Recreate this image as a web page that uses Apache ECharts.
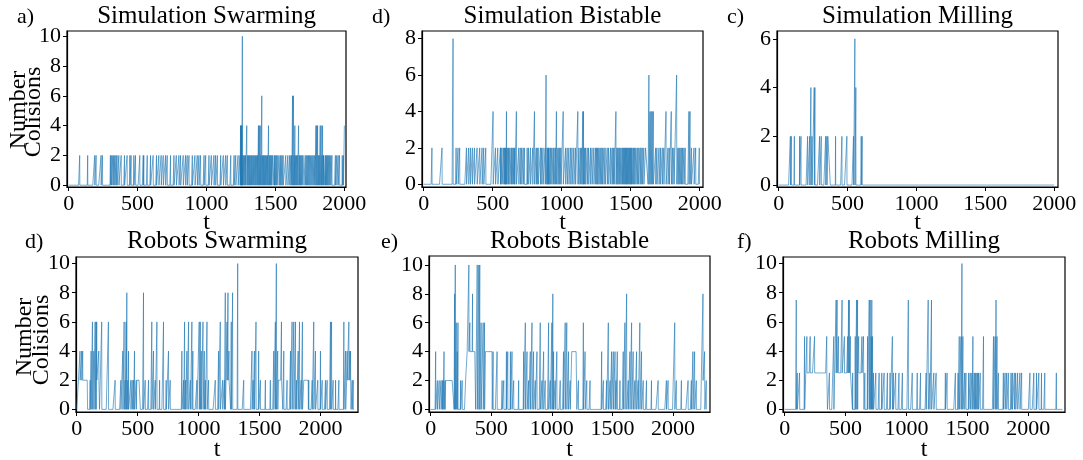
<!DOCTYPE html>
<html>
<head>
<meta charset="utf-8">
<script src="https://cdn.jsdelivr.net/npm/echarts@6/dist/echarts.min.js"></script>
<style>
html,body{margin:0;padding:0;background:#fff;}
#chart{width:1083px;height:460px;}
</style>
</head>
<body>
<div id="chart"></div>
<script>
// ---------------- DATA ----------------
const titles = ['Simulation Swarming','Simulation Bistable','Simulation Milling','Robots Swarming','Robots Bistable','Robots Milling'];
const panelTags = ['a)','d)','c)','d)','e)','f)'];
const simLength = 2001;
const robotLength = 2280;
const xTicksSim = [0,500,1000,1500,2000];
const xTicksRobot = [0,500,1000,1500,2000];
const yTicksA = [0,2,4,6,8,10];
const yTicksB = [0,2,4,6,8];
const yTicksC = [0,2,4,6];
const yTicksRobot = [0,2,4,6,8,10];

// spikes: [t, value]; runs: [tStart, tEnd, value]
const simSwarmRuns = [[1480,1488,2],[1700,1706,2],[1850,1857,2],[1520,1526,2]];
const simSwarmSpikes = [[80,2],[138,2],[189,2],[199,2],[235,2],[245,2],[303,2],[310,2],[320,2],[327,2],[335,2],[344,2],[351,2],[364,2],[381,2],[405,2],[424,2],[444,2],[453,2],[473,2],[485,2],[516,2],[541,2],[545,2],[570,2],[594,2],[613,2],[637,2],[654,2],[671,2],[686,2],[703,2],[715,2],[739,2],[764,2],[781,2],[800,2],[812,2],[831,2],[848,2],[860,2],[873,2],[897,2],[916,2],[933,2],[945,2],[957,2],[982,2],[994,2],[1018,2],[1035,2],[1054,2],[1066,2],[1079,2],[1103,2],[1122,2],[1139,2],[1151,2],[1176,2],[1200,2],[1212,2],[1229,2],[1243,2],
[1247,4],[1250,4],[1253,4],[1256,4],[1260,10],[1264,2],[1270,2],[1277,2],[1283,2],[1292,4],[1298,2],[1305,2],[1311,2],[1318,2],[1325,2],[1331,2],[1338,2],[1344,2],[1351,2],[1357,2],[1364,2],[1370,2],[1377,4],[1383,4],[1390,4],[1395,2],[1401,6],[1407,2],[1413,2],[1419,2],[1425,2],[1431,2],[1437,2],[1443,2],[1450,4],[1456,2],[1462,2],[1468,2],[1474,2],[1492,2],[1498,2],[1505,2],[1512,2],[1533,2],[1540,2],[1548,2],[1556,2],[1575,2],[1590,2],[1603,2],[1612,2],[1618,2],[1624,6],[1631,6],[1636,2],[1641,4],[1647,2],[1653,2],[1660,2],[1668,4],[1674,2],[1680,2],[1687,2],[1694,2],[1716,2],[1724,2],[1732,2],[1740,2],[1748,2],[1756,2],[1764,2],[1772,2],[1780,2],[1787,2],[1794,4],[1800,4],[1806,4],[1812,2],[1818,2],[1825,4],[1832,4],[1837,2],[1842,4],[1848,2],[1862,2],[1868,2],[1874,2],[1880,2],[1887,2],[1894,2],[1902,2],[1910,2],[1935,2],[1945,2],[1955,2],[1965,2],[1985,2],[1993,2],[2000,4]];

const simBistRuns = [[1608,1625,2]];
const simBistSpikes = [[60,2],[133,2],[213,8],[235,2],[249,2],[261,2],[310,2],[326,2],[339,2],[353,2],[368,2],[387,2],[406,2],[423,2],[435,2],[450,2],[503,4],[520,2],[537,2],[556,2],[560,2],[568,2],[580,2],[585,2],[592,2],[596,2],[600,4],[609,2],[615,2],[624,2],[634,2],[640,2],[648,2],[655,2],[660,2],[672,4],[689,2],[700,2],[710,2],[721,2],[730,2],[750,2],[760,2],[774,2],[790,2],[803,4],[815,2],[822,2],[830,2],[846,2],[855,2],[865,2],[880,2],[887,6],[895,2],[900,2],[905,2],[909,2],[919,2],[928,2],[938,2],[945,2],[955,2],[962,4],[972,2],[980,2],[987,2],[995,2],[1011,4],[1028,2],[1040,2],[1052,2],[1065,2],[1075,2],[1088,2],[1100,2],[1117,4],[1125,2],[1136,2],[1145,2],[1153,4],[1158,4],[1165,2],[1173,2],[1185,2],[1195,2],[1209,2],[1220,2],[1233,2],[1245,2],[1253,2],[1260,2],[1269,2],[1278,2],[1286,2],[1295,2],[1306,2],[1315,2],[1330,2],[1340,2],[1354,2],[1365,2],[1373,2],[1380,2],[1393,4],[1400,2],[1407,2],[1415,2],[1422,2],[1430,2],[1439,2],[1445,2],[1451,2],[1457,2],[1463,2],[1469,2],[1475,2],[1481,2],[1487,2],[1493,2],[1499,2],[1505,2],[1511,2],[1520,2],[1528,2],[1537,2],[1547,2],[1555,2],[1567,2],[1575,2],[1584,2],[1595,2],[1632,6],[1640,4],[1648,4],[1656,4],[1664,4],[1681,2],[1690,2],[1705,2],[1716,2],[1729,2],[1740,2],[1756,4],[1770,2],[1780,2],[1794,4],[1804,2],[1814,2],[1833,6],[1842,2],[1850,2],[1858,2],[1867,2],[1876,2],[1886,2],[1895,2],[1922,4],[1930,4],[1940,2],[1959,2],[1971,2],[1997,2]];

const simMillRuns = [[357,374,2]];
const simMillSpikes = [[85,2],[92,2],[114,2],[152,2],[162,2],[210,2],[225,2],[234,4],[242,2],[258,4],[263,4],[297,2],[309,2],[341,2],[350,2],[413,2],[459,2],[495,2],[543,2],[553,6],[560,4],[599,2],[606,2]];

const robSwarmRuns = [[14,88,2],[164,186,2],[493,521,2],[1225,1262,2],[1655,1690,2],[1863,1900,2],[2215,2250,2]];
const robSwarmSpikes = [[27,4],[41,4],[49,4],[110,2],[118,4],[129,6],[140,4],[151,6],[159,6],[164,6],[181,4],[205,6],[260,6],[315,2],[362,2],[378,4],[389,6],[397,2],[405,6],[411,8],[419,2],[425,4],[444,2],[455,2],[466,2],[474,4],[488,2],[548,8],[562,2],[589,2],[616,6],[630,4],[644,2],[658,6],[680,2],[712,6],[734,2],[753,4],[767,2],[863,4],[877,2],[885,6],[893,2],[904,4],[918,6],[932,2],[945,6],[953,4],[986,2],[1005,6],[1014,6],[1022,4],[1036,6],[1047,4],[1055,2],[1069,6],[1082,2],[1137,2],[1164,4],[1178,6],[1197,2],[1211,2],[1219,8],[1233,6],[1241,8],[1249,4],[1268,6],[1279,8],[1321,10],[1370,2],[1438,4],[1447,2],[1458,4],[1471,6],[1493,4],[1507,2],[1548,2],[1589,2],[1617,4],[1630,6],[1638,10],[1649,4],[1680,6],[1699,4],[1726,2],[1754,4],[1767,6],[1781,6],[1795,6],[1803,2],[1817,4],[1828,6],[1841,2],[1852,6],[1871,2],[1904,2],[1932,2],[1945,6],[1959,4],[1978,2],[2000,4],[2014,2],[2041,2],[2055,2],[2082,6],[2091,6],[2104,2],[2124,2],[2151,2],[2192,6],[2206,4],[2219,4],[2228,2],[2233,6],[2241,4],[2247,4],[2260,2],[2269,2]];

const robBistRuns = [[123,192,2],[288,300,2],[301,370,4],[452,507,4],[1164,1205,4],[2233,2262,2]];
const robBistSpikes = [[41,4],[55,2],[70,2],[85,2],[96,2],[102,2],[110,4],[118,2],[129,2],[137,2],[151,2],[164,2],[197,8],[203,10],[211,6],[219,4],[225,6],[247,2],[260,2],[315,10],[323,6],[345,8],[384,10],[397,10],[405,10],[416,6],[433,6],[444,6],[515,4],[548,4],[589,2],[603,2],[625,4],[636,4],[658,4],[671,4],[685,2],[726,2],[767,4],[781,6],[795,4],[808,2],[822,4],[836,6],[849,4],[863,2],[877,4],[904,6],[918,2],[932,4],[945,2],[973,6],[986,2],[1000,6],[1008,8],[1014,4],[1027,2],[1041,4],[1069,2],[1096,4],[1110,6],[1123,6],[1137,4],[1151,2],[1219,2],[1260,6],[1274,4],[1288,2],[1315,2],[1411,4],[1425,2],[1452,2],[1466,6],[1480,2],[1493,4],[1507,4],[1521,4],[1529,2],[1540,4],[1562,2],[1589,4],[1603,6],[1617,8],[1630,2],[1644,4],[1658,6],[1671,4],[1685,2],[1699,4],[1712,2],[1726,6],[1740,4],[1754,2],[1781,2],[1822,2],[1877,2],[1945,2],[1959,2],[2014,6],[2027,2],[2069,2],[2124,2],[2151,2],[2164,4],[2178,4],[2192,2],[2247,8],[2260,4],[2274,2]];

const robMillRuns = [[182,350,2.5],[410,555,2.5],[600,650,2.5]];
const robMillSpikes = [[95,7.5],[103,2.5],[122,2.5],[163,5],[182,5],[209,5],[231,2.5],[245,5],[258,2.5],[272,2.5],[345,5],[367,2.5],[403,5],[422,7.5],[430,7.5],[441,5],[454,2.5],[471,7.5],[490,5],[498,2.5],[517,5],[525,7.5],[530,7.5],[539,5],[558,2.5],[579,5],[590,7.5],[598,7.5],[607,5],[617,2.5],[634,5],[647,5],[658,2.5],[680,5],[694,7.5],[702,7.5],[710,5],[715,7.5],[721,5],[729,2.5],[748,2.5],[775,2.5],[797,2.5],[816,2.5],[843,2.5],[865,2.5],[884,5],[892,2.5],[911,2.5],[938,2.5],[966,2.5],[1015,7.5],[1047,2.5],[1088,2.5],[1115,2.5],[1161,2.5],[1178,7.5],[1191,2.5],[1205,7.5],[1224,2.5],[1243,2.5],[1319,2.5],[1333,2.5],[1401,2.5],[1423,2.5],[1433,5],[1447,5],[1455,10],[1463,5],[1477,2.5],[1488,2.5],[1510,2.5],[1523,2.5],[1537,2.5],[1545,5],[1556,2.5],[1564,2.5],[1572,2.5],[1583,2.5],[1591,2.5],[1605,2.5],[1632,5],[1714,5],[1727,5],[1735,7.5],[1743,5],[1754,2.5],[1795,2.5],[1809,2.5],[1822,2.5],[1836,2.5],[1858,2.5],[1869,2.5],[1885,2.5],[1896,2.5],[1912,2.5],[1931,2.5],[1945,2.5],[2013,2.5],[2045,2.5],[2067,2.5],[2086,2.5],[2108,2.5],[2135,2.5],[2230,2.5]];

// ---------------- BUILD ----------------
function buildSeries(n, runs, spikes){
  const v = new Array(n).fill(0);
  runs.forEach(function(r){ for(let t=r[0]; t<=r[1] && t<n; t++) v[t]=r[2]; });
  spikes.forEach(function(s){ if(s[0]<n) v[s[0]]=s[1]; });
  return v.map(function(y,t){ return [t,y]; });
}
const seriesData = [
  buildSeries(simLength, simSwarmRuns, simSwarmSpikes),
  buildSeries(simLength, simBistRuns, simBistSpikes),
  buildSeries(simLength, simMillRuns, simMillSpikes),
  buildSeries(robotLength, robSwarmRuns, robSwarmSpikes),
  buildSeries(robotLength, robBistRuns, robBistSpikes),
  buildSeries(robotLength, robMillRuns, robMillSpikes)
];

const FONT = 'Liberation Serif';
const layout = [
  {left:67, top:31, width:279, height:156, xmin:-12, xmax:2012, ymin:-0.12, ymax:10.35, xt:xTicksSim, yt:yTicksA},
  {left:422, top:31, width:281, height:156, xmin:-12, xmax:2024, ymin:-0.15, ymax:8.42, xt:xTicksSim, yt:yTicksB},
  {left:777, top:31, width:281, height:156, xmin:-12, xmax:2027, ymin:-0.08, ymax:6.32, xt:xTicksSim, yt:yTicksC},
  {left:76, top:257, width:282, height:155, xmin:-6, xmax:2308, ymin:-0.18, ymax:10.45, xt:xTicksRobot, yt:yTicksRobot},
  {left:429, top:256, width:281, height:156, xmin:-14, xmax:2305, ymin:-0.18, ymax:10.62, xt:xTicksRobot, yt:yTicksRobot},
  {left:783, top:257, width:282, height:155, xmin:-14, xmax:2301, ymin:-0.18, ymax:10.45, xt:xTicksRobot, yt:yTicksRobot}
];
function plain(v){ return String(v); }

const grids=[], xAxes=[], yAxes=[], series=[], graphics=[];
layout.forEach(function(L,i){
  grids.push({left:L.left, top:L.top, width:L.width, height:L.height, show:true, borderColor:'#000', borderWidth:1.2, backgroundColor:'transparent'});
  xAxes.push({type:'value', gridIndex:i, min:L.xmin, max:L.xmax,
    axisLine:{show:true, onZero:false, lineStyle:{color:'#000', width:1.2}},
    axisTick:{show:true, inside:false, length:4, customValues:L.xt, lineStyle:{color:'#000', width:1}},
    axisLabel:{show:true, customValues:L.xt, formatter:plain, margin:6, color:'#000', fontFamily:FONT, fontSize:22},
    splitLine:{show:false}});
  yAxes.push({type:'value', gridIndex:i, min:L.ymin, max:L.ymax,
    axisLine:{show:true, onZero:false, lineStyle:{color:'#000', width:1.2}},
    axisTick:{show:true, inside:false, length:4, customValues:L.yt, lineStyle:{color:'#000', width:1}},
    axisLabel:{show:true, customValues:L.yt, formatter:plain, margin:6, color:'#000', fontFamily:FONT, fontSize:22},
    splitLine:{show:false}});
  series.push({type:'line', xAxisIndex:i, yAxisIndex:i, data:seriesData[i], showSymbol:false, symbol:'none',
    lineStyle:{color:'#1f77b4', width:0.7, opacity:0.9}, animation:false, silent:true, clip:true});
  const cx = L.left + L.width/2;
  const titleY = i<3 ? 16 : 241;
  graphics.push({type:'text', x:cx, y:titleY, style:{text:titles[i], fill:'#000', font:'25px "'+FONT+'"', align:'center', verticalAlign:'middle', textAlign:'center', textVerticalAlign:'middle'}});
  graphics.push({type:'text', x:cx, y:(i<3?223:450), style:{text:'t', fill:'#000', font:'24px "'+FONT+'"', align:'center', verticalAlign:'middle', textAlign:'center', textVerticalAlign:'middle'}});
});
const tagPos = [[17,17],[372,17],[727,17],[25,242],[381,242],[737,242]];
tagPos.forEach(function(p,i){
  graphics.push({type:'text', x:p[0], y:p[1], style:{text:panelTags[i], fill:'#000', font:'22px "'+FONT+'"', align:'left', verticalAlign:'middle', textAlign:'left', textVerticalAlign:'middle'}});
});
[[19,110,34,112],[25,337,42,340]].forEach(function(p){
  graphics.push({type:'text', x:p[0], y:p[1], rotation:Math.PI/2, style:{text:'Number', fill:'#000', font:'24px "'+FONT+'"', align:'center', verticalAlign:'middle', textAlign:'center', textVerticalAlign:'middle'}});
  graphics.push({type:'text', x:p[2], y:p[3], rotation:Math.PI/2, style:{text:'Colisions', fill:'#000', font:'24px "'+FONT+'"', align:'center', verticalAlign:'middle', textAlign:'center', textVerticalAlign:'middle'}});
});

const chart = echarts.init(document.getElementById('chart'), null, {renderer:'canvas'});
chart.setOption({
  animation:false,
  backgroundColor:'#fff',
  grid:grids, xAxis:xAxes, yAxis:yAxes, series:series, graphic:graphics
});
</script>
</body>
</html>
